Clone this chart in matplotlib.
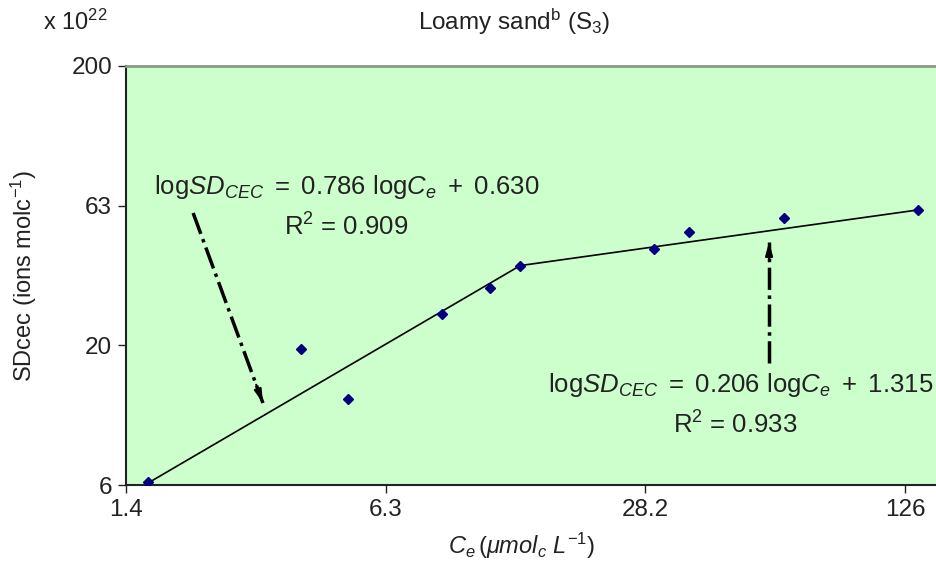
#!/usr/bin/env python
# -*- coding:utf-8 -*-

import numpy as np
import matplotlib
matplotlib.use('Agg')
import matplotlib.pyplot as plt

plt.rcParams['font.family'] = ['Liberation Sans', 'DejaVu Sans']
plt.rcParams['mathtext.fontset'] = 'custom'
plt.rcParams['mathtext.rm'] = 'Liberation Sans'
plt.rcParams['mathtext.it'] = 'Liberation Sans:italic'
plt.rcParams['mathtext.bf'] = 'Liberation Sans:bold'

# measured points (Ce, SDcec x 1e22)
ce = [1.60, 3.88, 5.08, 8.73, 11.5, 13.7, 29.6, 36.3, 62.5, 135.5]
sd = [6.47, 19.3, 12.8, 25.8, 32.0, 38.5, 44.2, 50.8, 56.8, 60.9]

# fitted broken line (vertices as drawn)
fit_x = [1.60, 13.7, 135.5]
fit_y = [6.40, 38.5, 60.9]

xticks = [10**0.15, 10**0.8, 10**1.45, 10**2.1]
xlabels = ['1.4', '6.3', '28.2', '126']
yticks = [10**0.8, 10**1.3, 10**1.8, 10**2.3]
ylabels = ['6', '20', '63', '200']

txt = '#222222'

fig = plt.figure(figsize=(9.37, 5.63), dpi=100)
ax = fig.add_axes([126/937, 1 - 485/563, 811/937, 419/563])
ax.set_facecolor('#ccffcc')

ax.plot(fit_x, fit_y, color='black', lw=1.2, zorder=2)
ax.plot(ce, sd, linestyle='none', marker='D', ms=5.5, color='#000080', zorder=3)

ax.set_xscale('log')
ax.set_yscale('log')
ax.set_xlim(10**0.15, 10**2.18)
ax.set_ylim(10**0.8, 10**2.3)
ax.set_xticks(xticks)
ax.set_xticklabels(xlabels)
ax.set_yticks(yticks)
ax.set_yticklabels(ylabels)
ax.minorticks_off()
ax.tick_params(direction='out', length=6, width=1, colors='#222222',
               labelsize=17.5, pad=4)

for side in ['left', 'bottom']:
    ax.spines[side].set_color('#222222')
    ax.spines[side].set_linewidth(1.5)
ax.spines['top'].set_color('#8a9a8a')
ax.spines['top'].set_linewidth(2)
ax.spines['right'].set_visible(False)

ax.set_xlabel(r'$\mathit{C_e\,(\mu mol_c\ L^{-1})}$', fontsize=17, color=txt)
ax.xaxis.set_label_coords((522 - 126) / 811, -(531 - 485) / 419)
ax.set_ylabel(r'SDcec (ions molc$^{\mathrm{-1}}$)', fontsize=17, color=txt)
ax.yaxis.set_label_coords(-(126 - 39) / 811, 0.5)
fig.text(514/937, 1 - 22/563, r'Loamy sand$^{\mathrm{b}}$ (S$_{3}$)',
         ha='center', va='center', fontsize=17.5, color=txt)
fig.text(43/937, 1 - 22/563, r'x 10$^{22}$', ha='left', va='center',
         fontsize=17, color=txt)

# equations
eq1 = r'$\mathrm{log}\mathit{SD}_{\mathit{CEC}}\ =\ 0.786\ \mathrm{log}\mathit{C}_{\mathit{e}}\ +\ 0.630$'
eq2 = r'$\mathrm{log}\mathit{SD}_{\mathit{CEC}}\ =\ 0.206\ \mathrm{log}\mathit{C}_{\mathit{e}}\ +\ 1.315$'
ax.text(0.272, 0.711, eq1, transform=ax.transAxes, ha='center', va='center',
        fontsize=18.5, color=txt)
ax.text(0.271, 0.616, r'R$^{2}$ = 0.909', transform=ax.transAxes, ha='center',
        va='center', fontsize=18.5, color=txt)
ax.text(0.758, 0.239, eq2, transform=ax.transAxes, ha='center', va='center',
        fontsize=18.5, color=txt)
ax.text(0.751, 0.143, r'R$^{2}$ = 0.933', transform=ax.transAxes, ha='center',
        va='center', fontsize=18.5, color=txt)

# arrows: dash-dot shaft + solid head
arrows = [((2.08, 59.4), (3.11, 12.4), (-0.346, 0.938)),
          ((57.5, 17.3), (57.5, 46.8), (0.0, -1.0))]
for (x0, y0), (x1, y1), (ux, uy) in arrows:
    ax.plot([x0, x1], [y0, y1], color='black', lw=2.5, linestyle='-.', zorder=4)
    ax.annotate('', xy=(x1, y1), xytext=(ux * 14, uy * 14),
                textcoords='offset points',
                arrowprops=dict(arrowstyle='-|>,head_length=0.8,head_width=0.22',
                                color='black', lw=1.5, shrinkA=0, shrinkB=0),
                zorder=5)

fig.savefig('out.png', dpi=100)
